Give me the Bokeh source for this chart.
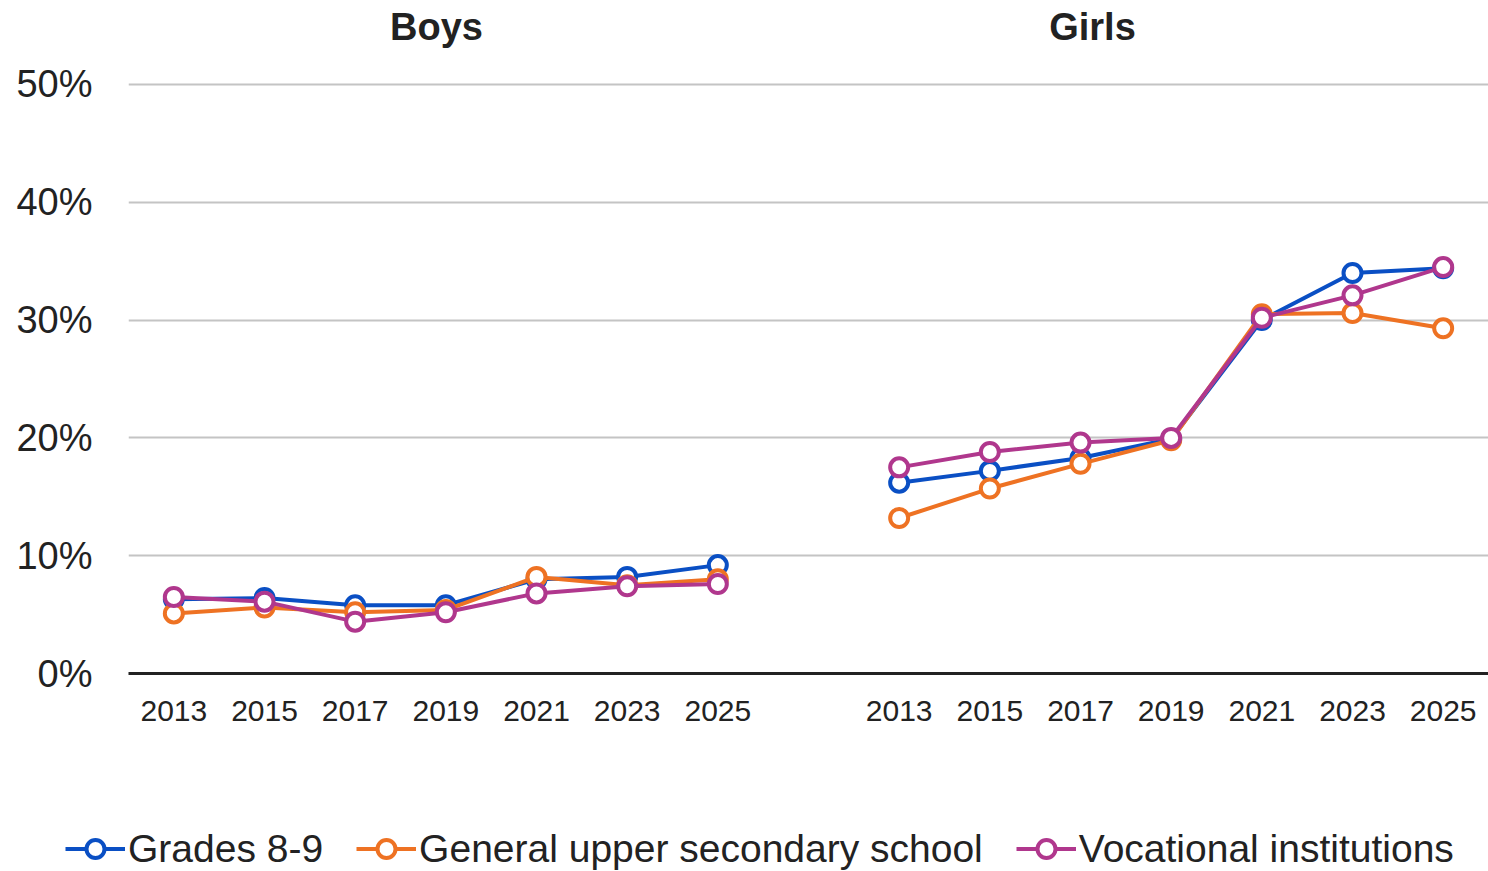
from bokeh.plotting import figure
from bokeh.models import (Range1d, FixedTicker, PrintfTickFormatter, Label,
                          Legend, LegendItem, ColumnDataSource)
from bokeh.embed import file_html
from bokeh.resources import INLINE

years = ["2013", "2015", "2017", "2019", "2021", "2023", "2025"]
groups = ["Boys", "Girls"]
series = ["Grades 8-9", "General upper secondary school", "Vocational institutions"]
colors = ["#0a4fc4", "#ee7223", "#b0378d"]

boys_grades89 = [6.3, 6.4, 5.8, 5.8, 8.0, 8.2, 9.2]
boys_general = [5.1, 5.6, 5.2, 5.4, 8.2, 7.5, 8.0]
boys_vocational = [6.5, 6.1, 4.4, 5.2, 6.8, 7.4, 7.6]

girls_grades89 = [16.2, 17.2, 18.3, 19.9, 30.0, 34.0, 34.4]
girls_general = [13.2, 15.7, 17.8, 19.8, 30.5, 30.6, 29.3]
girls_vocational = [17.5, 18.8, 19.6, 20.0, 30.2, 32.1, 34.5]

yticks = [0, 10, 20, 30, 40, 50]

boys_x = list(range(len(years)))
girls_x = [i + len(years) + 1 for i in range(len(years))]

FONT = "Liberation Sans"
TXT = "#222222"
W = 1488

p = figure(width=W, height=806, output_backend="svg", toolbar_location=None,
           x_range=Range1d(-0.5, 14.5), y_range=Range1d(0, 57.13),
           min_border_top=0, min_border_left=128, min_border_right=0,
           min_border_bottom=133)
p.outline_line_color = None
p.background_fill_color = "white"

# grid
p.xgrid.grid_line_color = None
p.ygrid.ticker = FixedTicker(ticks=yticks)
p.ygrid.grid_line_color = "#c4c4c4"
p.ygrid.grid_line_width = 2

# y axis
p.yaxis.ticker = FixedTicker(ticks=yticks)
p.yaxis.formatter = PrintfTickFormatter(format="%d%%")
p.yaxis.axis_line_color = None
p.yaxis.major_tick_line_color = None
p.yaxis.minor_tick_line_color = None
p.yaxis.major_tick_out = 0
p.yaxis.major_label_standoff = 36
p.yaxis.major_label_text_font = FONT
p.yaxis.major_label_text_font_size = "38px"
p.yaxis.major_label_text_color = TXT

# x axis
all_x = boys_x + girls_x
p.xaxis.ticker = FixedTicker(ticks=all_x)
p.xaxis.major_label_overrides = {x: y for x, y in zip(all_x, years + years)}
p.xaxis.axis_line_color = "#222222"
p.xaxis.axis_line_width = 3
p.xaxis.major_tick_line_color = None
p.xaxis.minor_tick_line_color = None
p.xaxis.major_label_standoff = 21
p.xaxis.major_label_text_font = FONT
p.xaxis.major_label_text_font_size = "30px"
p.xaxis.major_label_text_color = TXT

data = [(boys_grades89, girls_grades89), (boys_general, girls_general),
        (boys_vocational, girls_vocational)]

for name, color, (bv, gv) in zip(series, colors, data):
    for xs, ys in ((boys_x, bv), (girls_x, gv)):
        src = ColumnDataSource(dict(x=xs, y=ys))
        p.line("x", "y", source=src, line_color=color, line_width=4)
        p.scatter("x", "y", source=src, size=18, fill_color="white",
                  line_color=color, line_width=4)

# panel titles
for text, sx in zip(groups, [308, 964]):
    p.add_layout(Label(x=sx, y=54.84, x_units="screen", text=text,
                       text_font=FONT, text_font_style="bold",
                       text_font_size="38px", text_color=TXT,
                       text_align="center", text_baseline="middle"))

# legend strip (glyphs lie outside its view; only the legend keys show)
lg = figure(width=W, height=65, output_backend="svg", toolbar_location=None,
            x_range=Range1d(0, 1), y_range=Range1d(-2, -1),
            x_axis_type=None, y_axis_type=None,
            min_border_top=0, min_border_left=0, min_border_right=0,
            min_border_bottom=0)
lg.outline_line_color = None
lg.xgrid.visible = False
lg.ygrid.visible = False

items = []
for name, color, (bv, gv) in zip(series, colors, data):
    src = ColumnDataSource(dict(x=boys_x, y=bv))
    ln = lg.line("x", "y", source=src, line_color=color, line_width=4)
    sc = lg.scatter("x", "y", source=src, size=18, fill_color="white",
                    line_color=color, line_width=4)
    items.append(LegendItem(label=name, renderers=[ln, sc]))

legend = Legend(items=items, orientation="horizontal", location=(65, 0),
                label_text_font=FONT, label_text_font_size="39px",
                label_text_color=TXT, glyph_width=60, glyph_height=45,
                label_standoff=3, spacing=33, padding=0, margin=0,
                border_line_color=None, background_fill_alpha=0)
lg.add_layout(legend, "center")

open("out.html", "w").write(file_html([p, lg], INLINE))
